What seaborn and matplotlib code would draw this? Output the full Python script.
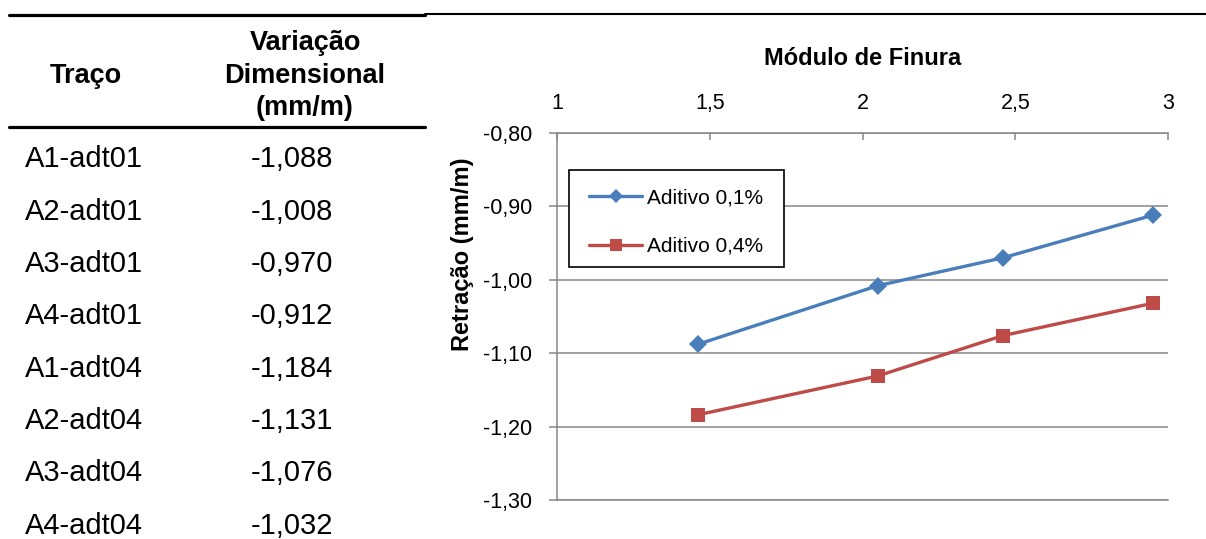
import matplotlib
matplotlib.use("Agg")
import matplotlib.pyplot as plt
from matplotlib.lines import Line2D
from matplotlib.patches import Rectangle
import pandas as pd
import seaborn as sns

# Table contents
tracos = ["A1-adt01", "A2-adt01", "A3-adt01", "A4-adt01",
          "A1-adt04", "A2-adt04", "A3-adt04", "A4-adt04"]
variacao = [-1.088, -1.008, -0.970, -0.912, -1.184, -1.131, -1.076, -1.032]

# Chart series
modulo_finura = [1.46, 2.05, 2.46, 2.95]
retracao_adt01 = [-1.088, -1.008, -0.970, -0.912]
retracao_adt04 = [-1.184, -1.131, -1.076, -1.032]
series_names = ["Aditivo 0,1%", "Aditivo 0,4%"]

x_ticks = [1, 1.5, 2, 2.5, 3]
y_ticks = [-1.30, -1.20, -1.10, -1.00, -0.90, -0.80]

sns.set_theme(style="white")
plt.rcParams["font.family"] = ["Liberation Sans", "DejaVu Sans"]

W, H = 1206, 539
DPI = 100
fig = plt.figure(figsize=(W / DPI, H / DPI), dpi=DPI)


def fx(px):
    return px / W


def fy(py):
    return 1 - py / H


def baseline(cap_center_px, size_pt):
    # baseline position for text whose capitals are centred on cap_center_px
    return cap_center_px + 0.716 * size_pt * DPI / 72 / 2


def fmt(v, nd):
    return f"{v:.{nd}f}".replace(".", ",")


# ---- table on the left ----
rule_color = "black"
fig.add_artist(Line2D([fx(9), fx(425)], [fy(14.5), fy(14.5)], color=rule_color, lw=2.3))
fig.add_artist(Line2D([fx(425), fx(1206)], [fy(14), fy(14)], color=rule_color, lw=1.5))
fig.add_artist(Line2D([fx(9), fx(425)], [fy(126.5), fy(126.5)], color=rule_color, lw=2.3))

head_size = 19.5
fig.text(fx(86), fy(baseline(73, head_size)), "Traço", ha="center", va="baseline",
         fontsize=head_size, fontweight="bold", color="black")
for txt, yc in zip(["Variação", "Dimensional", "(mm/m)"], [40, 73, 105]):
    fig.text(fx(305), fy(baseline(yc, head_size)), txt, ha="center", va="baseline",
             fontsize=head_size, fontweight="bold", color="black")

body_size = 21
first_row, row_step = 157, 52.3
for i, (name, val) in enumerate(zip(tracos, variacao)):
    yc = first_row + i * row_step
    fig.text(fx(25), fy(baseline(yc, body_size)), name, ha="left", va="baseline",
             fontsize=body_size, color="black")
    fig.text(fx(251), fy(baseline(yc, body_size)), fmt(val, 3), ha="left", va="baseline",
             fontsize=body_size, color="black")

# ---- line chart on the right ----
ax = fig.add_axes([fx(557), fy(500), fx(1168) - fx(557), fy(133) - fy(500)])

df = pd.DataFrame({
    "modulo": modulo_finura + modulo_finura,
    "retracao": retracao_adt01 + retracao_adt04,
    "serie": [series_names[0]] * len(modulo_finura) + [series_names[1]] * len(modulo_finura),
})
palette = {series_names[0]: "#4A7EBB", series_names[1]: "#BE4B48"}
markers = {series_names[0]: "D", series_names[1]: "s"}

sns.lineplot(data=df, x="modulo", y="retracao", hue="serie", style="serie",
             palette=palette, markers=markers, dashes=False, linewidth=2.4,
             markersize=9, markeredgewidth=0, ax=ax, legend=False)
# square markers a bit larger than the diamonds
for line in ax.lines:
    if line.get_marker() == "s":
        line.set_markersize(10.5)

ax.set_xlim(1, 3)
ax.set_ylim(-1.30, -0.80)

gray = "#868686"
ax.xaxis.tick_top()
ax.set_xticks(x_ticks)
ax.set_xticklabels([fmt(v, 1).replace(",0", "") for v in x_ticks])
ax.set_yticks(y_ticks)
ax.set_yticklabels([fmt(v, 2) for v in y_ticks])
ax.tick_params(axis="x", top=True, bottom=False, direction="in", length=5, width=1.1,
               color=gray, pad=14, labelsize=15.5, labelcolor="black")
ax.tick_params(axis="y", left=True, direction="out", length=6, width=1.1,
               color=gray, pad=12, labelsize=15.5, labelcolor="black")

ax.grid(axis="y", color=gray, linewidth=1.1)
ax.grid(axis="x", visible=False)
for side in ["top", "left", "bottom"]:
    ax.spines[side].set_visible(True)
    ax.spines[side].set_color(gray)
    ax.spines[side].set_linewidth(1.1)
ax.spines["right"].set_visible(False)

ax.xaxis.set_label_position("top")
ax.set_xlabel("Módulo de Finura", fontsize=17, fontweight="bold", color="black")
ax.xaxis.label.set_verticalalignment("center")
ax.xaxis.set_label_coords(0.5, (500 - 59) / 367)

ax.set_ylabel("Retração (mm/m)", fontsize=17, fontweight="bold", color="black")
ax.yaxis.label.set_verticalalignment("center")
ax.yaxis.set_label_coords((463 - 557) / 611, (500 - 254) / 367)

# legend: boxed, white-filled, hiding the grid behind it
box = Rectangle((fx(569), fy(267)), fx(784) - fx(569), fy(170) - fy(267),
                transform=fig.transFigure, facecolor="white", edgecolor="black",
                linewidth=1.2, zorder=4.5, clip_on=False)
ax.add_patch(box)

handles = [
    Line2D([], [], color=palette[series_names[0]], marker="D", markersize=7, lw=2.4,
           markeredgewidth=0),
    Line2D([], [], color=palette[series_names[1]], marker="s", markersize=9, lw=2.4,
           markeredgewidth=0),
]
leg = ax.legend(handles, series_names, loc="upper left",
                bbox_to_anchor=(fx(589), fy(188)), bbox_transform=fig.transFigure,
                fontsize=15, frameon=False, borderpad=0, labelspacing=1.44,
                handlelength=2.55, handletextpad=0.25, borderaxespad=0)
leg.set_zorder(5)
for t in leg.get_texts():
    t.set_color("black")

fig.savefig("out.png", dpi=DPI)
